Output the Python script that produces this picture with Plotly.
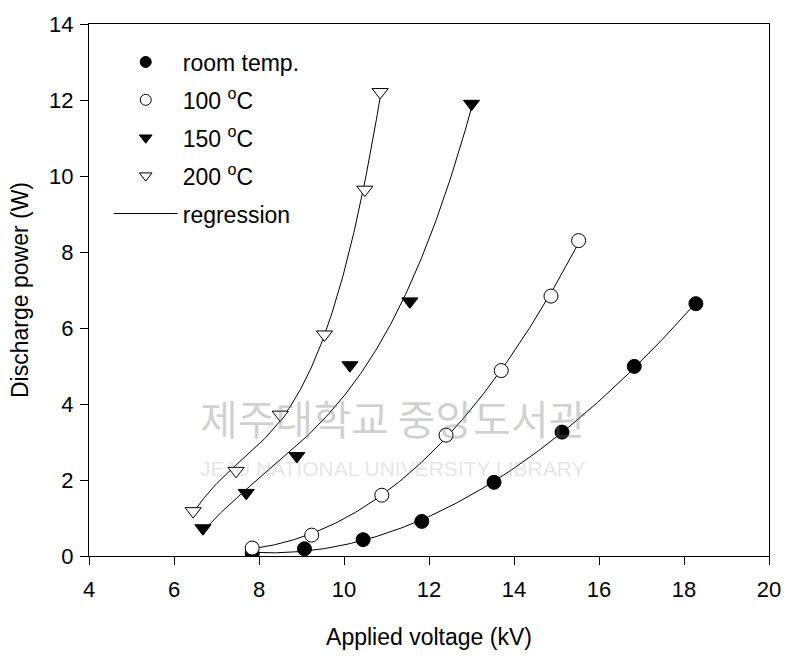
import numpy as np
import plotly.graph_objects as go

# ---- data ----
room_x = [7.84, 9.07, 10.45, 11.83, 13.53, 15.13, 16.83, 18.28]
room_y = [0.06, 0.19, 0.43, 0.91, 1.94, 3.26, 4.99, 6.64]

c100_x = [7.84, 9.24, 10.89, 12.40, 13.70, 14.87, 15.52]
c100_y = [0.21, 0.55, 1.60, 3.18, 4.88, 6.84, 8.30]

c150_x = [6.68, 7.70, 8.89, 10.14, 11.55, 13.00]
c150_y = [0.73, 1.66, 2.63, 5.02, 6.70, 11.90]

c200_x = [6.45, 7.46, 8.50, 9.54, 10.49, 10.85]
c200_y = [1.18, 2.24, 3.72, 5.83, 9.64, 12.21]

names = ["room temp.", "100 <sup>o</sup>C", "150 <sup>o</sup>C", "200 <sup>o</sup>C"]
x_ticks = [4, 6, 8, 10, 12, 14, 16, 18, 20]
y_ticks = [0, 2, 4, 6, 8, 10, 12, 14]

series = [
    (room_x, room_y, "circle", "black"),
    (c100_x, c100_y, "circle", "white"),
    (c150_x, c150_y, "triangle-down", "black"),
    (c200_x, c200_y, "triangle-down", "white"),
]

FONT = "Arial, Liberation Sans, sans-serif"
fig = go.Figure()

# regression curves (cubic fits of each series)
for xs, ys, sym, col in series:
    coef = np.polyfit(xs, ys, 3)
    xx = np.linspace(min(xs), max(xs), 200)
    fig.add_trace(go.Scatter(x=xx, y=np.polyval(coef, xx), mode="lines",
                             line=dict(color="black", width=1),
                             showlegend=False, hoverinfo="skip"))

# data markers
for xs, ys, sym, col in series:
    fig.add_trace(go.Scatter(x=xs, y=ys, mode="markers", showlegend=False,
                             marker=dict(symbol=sym, size=14, color=col,
                                         line=dict(color="black", width=1))))

# legend-only entries
for i, ((xs, ys, sym, col), nm) in enumerate(zip(series, names)):
    fig.add_trace(go.Scatter(x=[None], y=[None], mode="markers", name=nm,
                             legendgroup=f"g{i}",
                             marker=dict(symbol=sym, size=11, color=col,
                                         line=dict(color="black", width=1))))
fig.add_trace(go.Scatter(x=[None], y=[None], mode="lines", name="regression",
                         legendgroup="g4", line=dict(color="black", width=1)))

# watermark text
fig.add_annotation(x=0.447, y=0.201, xref="paper", yref="paper",
                   text="제주대학교 중앙도서관", showarrow=False,
                   font=dict(family="Noto Sans CJK KR", size=41, color="rgba(120,120,120,0.34)"))
fig.add_annotation(x=0.447, y=0.140, xref="paper", yref="paper",
                   text="JEJU NATIONAL UNIVERSITY LIBRARY", showarrow=False,
                   font=dict(family=FONT, size=21, color="rgba(150,150,150,0.25)"))

axis_common = dict(showline=True, linecolor="black", linewidth=1, mirror=True,
                   ticks="outside", ticklen=8, tickcolor="black", showgrid=False,
                   zeroline=False, tickfont=dict(family=FONT, size=22, color="black"))

fig.update_xaxes(range=[4, 20], tickvals=x_ticks, ticklabelstandoff=6,
                 title=dict(text="Applied voltage (kV)", standoff=27,
                            font=dict(family=FONT, size=23, color="black")),
                 **axis_common)
fig.update_yaxes(range=[0, 14], tickvals=y_ticks, ticklabelstandoff=2,
                 title=dict(text="Discharge power (W)", standoff=14,
                            font=dict(family=FONT, size=23, color="black")),
                 **axis_common)

fig.update_layout(
    width=793, height=658,
    margin=dict(l=89, r=20, t=18, b=101),
    plot_bgcolor="white", paper_bgcolor="white",
    font=dict(family=FONT, color="black"),
    legend=dict(x=0.029, y=0.969, xanchor="left", yanchor="top",
                bgcolor="rgba(0,0,0,0)", font=dict(family=FONT, size=23),
                tracegroupgap=5, itemwidth=64),
)

fig.write_html("out.html")
